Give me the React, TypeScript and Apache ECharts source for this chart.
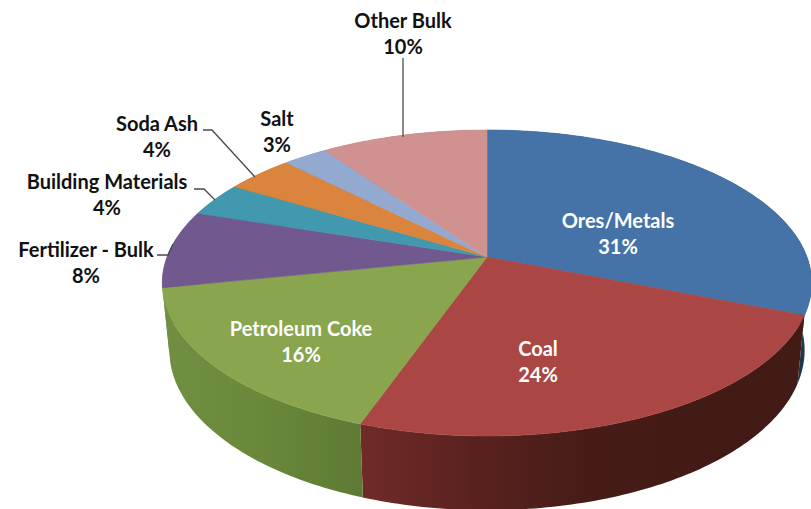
import React, { useEffect, useRef } from "react";
import * as echarts from "echarts";

const CATEGORIES = ["Ores/Metals", "Coal", "Petroleum Coke", "Fertilizer - Bulk", "Building Materials", "Soda Ash", "Salt", "Other Bulk"];
const VALUES = [31, 24.4, 16.4, 8.2, 3.6, 4, 2.6, 9.8];

const TOP_COLORS = ["#4572A7", "#AA4643", "#89A54E", "#71588F", "#4198AF", "#DB843D", "#93A9CF", "#D09291"];
const WALL_STOPS: string[][] = [
  ["#223F5E", "#1D3650"],
  ["#702B28", "#5A221F", "#471C18", "#421A16", "#421A16"],
  ["#718F41", "#698839", "#5E7A35"],
  ["#718F41", "#718F41"],
  ["#2B6575", "#2B6575"],
  ["#935828", "#935828"],
  ["#62718A", "#62718A"],
  ["#8B6261", "#8B6261"],
];
const TEXT_COLORS = ["#ffffff", "#ffffff", "#ffffff", "#111111", "#111111", "#111111", "#111111", "#111111"];
const LABEL_X = [618, 538, 301, 86, 107, 157, 277, 403];
const LABEL_Y = [233, 361, 341, 262, 194, 136, 131, 33];
const LEADERS: number[][][] = [
  [], [], [],
  [[157, 255], [168, 255], [173, 244]],
  [[194, 189], [204, 189], [215, 200]],
  [[203, 130], [212, 130], [255, 177]],
  [],
  [[403, 58], [403, 137]],
];

const TOTAL = VALUES.reduce((a, b) => a + b, 0);
const PERSPECTIVE = 0.17;
const TOP_FACE = { cx: 487, cy: 257, rx: 320, ry: 148.6 };
const BOTTOM_FACE = { cx: 487, cy: 323, rx: 313, ry: 155.4 };

function project(face: typeof TOP_FACE, theta: number): number[] {
  const sx = Math.sin(theta);
  const sy = -Math.cos(theta);
  const w = 1 - PERSPECTIVE * sy;
  return [face.cx + (face.rx * sx) / w, face.cy + (face.ry * sy) / w];
}

function arc(face: typeof TOP_FACE, a0: number, a1: number): number[][] {
  const n = Math.max(2, Math.ceil(Math.abs(a1 - a0) * 60));
  const pts: number[][] = [];
  for (let i = 0; i <= n; i++) pts.push(project(face, a0 + ((a1 - a0) * i) / n));
  return pts;
}

function sliceAngles(index: number): number[] {
  let before = 0;
  for (let i = 0; i < index; i++) before += VALUES[i];
  return [(before / TOTAL) * Math.PI * 2, ((before + VALUES[index]) / TOTAL) * Math.PI * 2];
}

const renderWall = (params: any) => {
  const i = params.dataIndex;
  const [a0, a1] = sliceAngles(i);
  const stops = WALL_STOPS[i];
  return {
    type: "polygon",
    shape: { points: [...arc(TOP_FACE, a0, a1), ...arc(BOTTOM_FACE, a1, a0)] },
    style: {
      fill: new echarts.graphic.LinearGradient(
        0, 0, 1, 0,
        stops.map((color, k) => ({ offset: k / (stops.length - 1), color }))
      ),
    },
  };
};

const renderTop = (params: any) => {
  const i = params.dataIndex;
  const [a0, a1] = sliceAngles(i);
  return {
    type: "polygon",
    shape: { points: [[TOP_FACE.cx, TOP_FACE.cy], ...arc(TOP_FACE, a0, a1)] },
    style: { fill: TOP_COLORS[i], stroke: TOP_COLORS[i], lineWidth: 0.6 },
  };
};

const renderLabel = (params: any) => {
  const i = params.dataIndex;
  const pct = Math.round((VALUES[i] / TOTAL) * 100);
  const children: any[] = [];
  if (LEADERS[i].length) {
    children.push({
      type: "polyline",
      shape: { points: LEADERS[i] },
      style: { fill: "none", stroke: "#4a4a4a", lineWidth: 1.3 },
    });
  }
  children.push({
    type: "text",
    x: LABEL_X[i],
    y: LABEL_Y[i],
    style: {
      text: `${CATEGORIES[i]}\n${pct}%`,
      align: "center",
      verticalAlign: "middle",
      fontFamily: "Lato",
      fontWeight: "bold",
      fontSize: 20,
      lineHeight: 26,
      fill: TEXT_COLORS[i],
    },
  });
  return { type: "group", children };
};

export default function App() {
  const ref = useRef<HTMLDivElement>(null);
  useEffect(() => {
    const chart = echarts.init(ref.current!, null, { renderer: "svg" });
    const data = VALUES.map((value, i) => ({ name: CATEGORIES[i], value }));
    const base = { type: "custom", coordinateSystem: "none", silent: true, data };
    chart.setOption({
      animation: false,
      backgroundColor: "#ffffff",
      series: [
        { ...base, z: 1, renderItem: renderWall },
        { ...base, z: 2, renderItem: renderTop },
        { ...base, z: 3, renderItem: renderLabel },
      ],
    });
    return () => chart.dispose();
  }, []);
  return <div ref={ref} style={{ position: "fixed", left: 0, top: 0, width: 811, height: 509 }} />;
}
